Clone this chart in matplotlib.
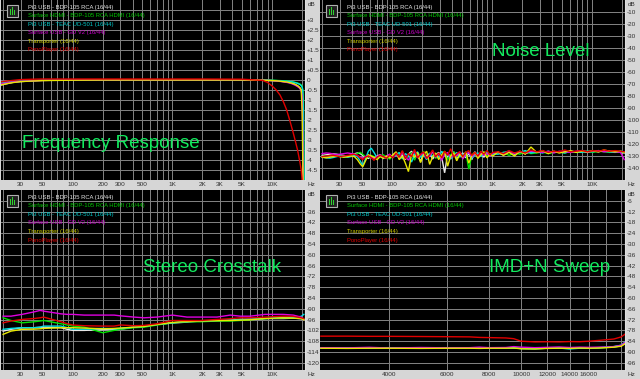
import matplotlib
matplotlib.use('Agg')
import matplotlib.pyplot as plt
from matplotlib.patches import Rectangle

W, H = 640, 379
BG = '#d6d6d6'
GRID = '#808080'
TXT = '#303030'
TITLE = '#12ea5e'
FONT = 'Liberation Sans'

series_names = ["Pi3 USB - BDP-105 RCA (16/44)",
                "Surface HDMI - BDP-105 RCA HDMI (16/44)",
                "Pi3 USB - TEAC UD-501 (16/44)",
                "Surface USB - GD V2 (16/44)",
                "Transporter (16/44)",
                "PonoPlayer (16/44)"]
line_colors = ['#e8e8e8', '#00e000', '#00e0e0', '#e000e0', '#e8e800', '#e00000']
text_colors = ['#e6e6e6', '#00c800', '#00c8c8', '#c800c8', '#d0d000', '#e00000']

# ---------------- Frequency response ----------------
f_fr = [19, 22, 25, 30, 40, 50, 70, 100, 200, 500, 1000, 2000, 5000, 8000, 9000,
        10000, 11000, 12000, 13000, 14000, 15000, 16000, 17000, 18000, 19000,
        19600, 20000, 20300, 20600, 21000]
fr_white = [-0.25, -0.18, -0.12, -0.08, -0.04, -0.02, -0.01, 0, 0, 0, 0, 0, 0, -0.01, -0.02,
            -0.03, -0.04, -0.06, -0.08, -0.1, -0.13, -0.17, -0.22, -0.3, -0.4, -0.5, -0.7, -2.0, -5.0, -7]
fr_green = [-0.12, -0.08, -0.06, -0.04, -0.02, -0.01, 0, 0, 0, 0, 0, 0, 0, 0, 0,
            -0.01, -0.02, -0.03, -0.04, -0.05, -0.07, -0.09, -0.12, -0.15, -0.2, -0.25, -0.3, -0.5, -1.0, -5.5]
fr_cyan = [-0.15, -0.1, -0.07, -0.05, -0.03, -0.01, 0, 0, 0, 0, 0, 0, 0, 0, -0.01,
           -0.02, -0.03, -0.04, -0.05, -0.06, -0.08, -0.1, -0.13, -0.17, -0.22, -0.28, -0.35, -0.5, -1.5, -6]
fr_magenta = [-0.2, -0.14, -0.1, -0.06, -0.04, -0.02, -0.01, 0, 0, 0, 0, 0, 0, -0.01, -0.02,
              -0.03, -0.05, -0.07, -0.09, -0.12, -0.15, -0.2, -0.26, -0.33, -0.42, -0.55, -0.8, -2.5, -5.5, -7]
fr_yellow = [-0.25, -0.18, -0.13, -0.08, -0.05, -0.03, -0.02, -0.01, 0, 0, 0, 0, 0, -0.01, -0.02,
             -0.03, -0.04, -0.06, -0.08, -0.1, -0.13, -0.17, -0.22, -0.28, -0.38, -0.5, -1.5, -4.0, -6, -7]
fr_red = [-0.1, -0.05, -0.02, 0.02, 0.04, 0.05, 0.05, 0.05, 0.05, 0.05, 0.05, 0.05, 0.04, -0.02, -0.12,
          -0.3, -0.5, -0.75, -1.1, -1.5, -2.0, -2.5, -3.0, -3.5, -4.1, -4.5, -5.0, -5.5, -6, -7]

# ---------------- Noise level ----------------
f_noise = [20, 22, 24, 26, 28, 30, 33, 36, 39, 42,
           45, 48, 51, 54, 58, 62, 66, 71, 76, 82,
           88, 95, 102, 110, 118, 127, 136, 146, 157, 168,
           180, 193, 207, 222, 238, 255, 273, 293, 314, 336,
           360, 386, 414, 444, 476, 510, 547, 586, 628, 673,
           722, 774, 830, 890, 954, 1020, 1150, 1300, 1480, 1680,
           1900, 2150, 2450, 2800, 3200, 3650, 4150, 4700, 5350, 6100,
           6950, 7900, 9000, 10200, 11600, 13200, 15000, 17000, 19300, 21000]
nz_white = [-129.5, -129.0, -128.6, -128.3, -128.5, -129.0, -129.6, -130.1, -129.4, -128.2, -127.5,
            -128.0, -129.5, -131.0, -132.0, -130.5, -131.5, -130.0, -129.0, -130.5, -132.0, -131.0, -129.5,
            -127.0, -131.5, -129.0, -133.0, -128.5, -126.0, -131.0, -129.5, -134.5, -127.5, -130.0,
            -128.0, -132.5, -129.0, -127.0, -131.0, -144.0, -128.5, -130.5, -126.5, -132.0, -129.0,
            -127.5, -131.5, -128.0, -133.0, -126.5, -130.0, -128.0, -131.0, -127.0, -129.5, -128.0,
            -127.5, -129.0, -126.5, -128.5, -127.0, -128.0, -126.5,
            -127.0, -126.0, -127.5, -126.5, -127.0, -126.0, -127.0, -126.5, -126.0, -127.0, -126.0,
            -126.5, -125.5, -126.5, -126.0, -127.0, -127.5]
nz_green = [-130.5, -130.0, -129.6, -129.2, -129.5, -130.0, -130.5, -130.8, -130.0, -129.0, -128.0,
            -127.0, -128.5, -130.5, -131.0, -129.5, -130.5, -131.5, -130.0, -129.0, -131.0, -132.5, -130.0,
            -128.5, -130.0, -126.5, -132.0, -129.5, -127.0, -133.5, -128.0, -130.5, -126.0, -131.5,
            -129.0, -127.5, -132.0, -128.5, -130.0, -127.0, -133.0, -129.0, -126.5, -131.0, -128.0,
            -130.5, -127.0, -141.0, -129.5, -127.5, -131.5, -128.5, -126.5, -130.0, -128.0, -129.0,
            -128.0, -127.0, -129.5, -127.5, -128.5, -126.5, -128.0,
            -127.5, -126.5, -128.0, -127.0, -126.5, -127.5, -126.0, -127.0, -126.5, -126.0, -127.0,
            -126.0, -126.5, -127.0, -126.0, -126.5, -127.0]
nz_cyan = [-131.0, -131.5, -131.8, -131.2, -130.5, -130.0, -130.5, -131.0, -130.5, -129.5, -130.5,
           -134.0, -138.0, -133.0, -126.0, -123.5, -127.0, -131.5, -130.0, -132.0, -130.5, -129.0, -131.0,
           -129.5, -127.0, -132.5, -128.0, -130.0, -135.0, -128.5, -126.5, -131.0, -129.0, -133.0,
           -127.5, -130.5, -128.0, -131.5, -126.0, -130.0, -128.5, -132.5, -129.5, -127.0, -131.0,
           -128.5, -130.0, -126.5, -132.0, -129.0, -127.5, -130.5, -128.0, -126.5, -129.5, -128.0,
           -128.5, -127.0, -126.0, -128.0, -127.0, -125.5, -127.5,
           -126.5, -127.5, -126.0, -127.0, -126.5, -127.5, -126.0, -126.5, -127.0, -126.0, -126.5,
           -125.5, -126.0, -126.5, -127.0, -126.0, -126.5]
nz_magenta = [-128.0, -127.5, -127.8, -128.5, -129.0, -128.5, -128.0, -127.5, -128.0, -128.5, -129.5,
              -131.0, -132.0, -130.5, -129.5, -130.5, -132.0, -130.5, -129.0, -131.0, -130.0, -128.5, -131.5,
              -128.0, -132.0, -127.0, -130.5, -133.5, -128.5, -126.0, -131.5, -129.0, -127.5, -132.0,
              -130.0, -126.5, -131.0, -128.0, -133.5, -129.0, -127.0, -131.5, -128.5, -130.0, -126.5,
              -132.5, -129.0, -127.0, -131.0, -128.0, -130.5, -127.5, -129.5, -128.0, -130.0, -127.5,
              -127.0, -128.5, -126.5, -128.0, -126.5, -127.5, -126.0,
              -126.5, -127.0, -126.0, -127.5, -126.0, -126.5, -127.0, -126.0, -125.5, -126.5, -126.0,
              -125.5, -126.5, -126.0, -126.5, -127.0, -133.0]
nz_yellow = [-131.0, -131.5, -131.0, -130.5, -130.0, -130.5, -131.0, -130.5, -130.0, -130.5, -133.0,
             -136.5, -139.0, -134.5, -129.0, -130.0, -131.0, -133.0, -130.5, -132.0, -130.0, -131.5, -129.0,
             -126.5, -133.0, -130.0, -136.0, -143.0, -128.5, -131.0, -127.0, -135.5, -129.0, -126.0,
             -137.0, -130.5, -127.5, -133.0, -129.0, -126.0, -138.5, -130.0, -127.5, -134.0, -128.5,
             -131.0, -126.5, -136.0, -129.5, -127.0, -132.0, -129.0, -126.5, -131.5, -128.5, -130.0,
             -126.5, -129.5, -127.0, -130.0, -126.0, -128.5, -122.5,
             -127.0, -125.5, -128.0, -126.0, -127.5, -126.5, -125.5, -127.0, -126.0, -126.5, -125.5,
             -126.5, -125.0, -126.0, -126.5, -126.0, -127.0]
nz_red = [-130.5, -130.0, -129.5, -129.5, -130.0, -130.5, -130.0, -129.5, -129.0, -128.5, -129.5,
          -131.5, -133.0, -131.0, -130.0, -131.5, -133.5, -131.0, -129.5, -130.5, -132.0, -129.5, -131.5,
          -127.5, -131.0, -125.5, -132.5, -128.0, -130.5, -124.5, -131.5, -128.5, -126.5, -132.0,
          -129.0, -125.0, -130.5, -127.5, -131.5, -126.0, -129.5, -124.0, -131.0, -128.0, -126.5,
          -130.5, -127.0, -125.5, -129.5, -127.0, -130.0, -126.0, -128.5, -125.5, -129.0, -127.0,
          -126.5, -128.0, -125.5, -127.5, -126.0, -127.5, -125.0,
          -126.5, -125.5, -127.0, -126.0, -126.5, -125.0, -126.5, -126.0, -125.5, -126.5, -125.5,
          -126.0, -125.0, -126.0, -125.5, -126.0, -126.5]

# ---------------- Stereo crosstalk ----------------
f_ct = [20, 24, 31, 41, 47, 51, 76, 88, 100, 130, 200, 260, 300, 410, 520, 700, 1000,
        1400, 1900, 2800, 3800, 4800, 6000, 8500, 12900, 16300, 19600, 20800]
ct_white = [-102.4, -101.4, -100.5, -100.5, -100.3, -100.2, -100.5, -101.4, -102.0, -102.0, -101.6, -101.4,
            -101.3, -100.2, -99.8, -98.7, -97.9, -97.4, -96.8, -96.5, -96.3, -95.9, -95.9, -95.4, -95.4,
            -95.2, -95.5, -95.9]
ct_green = [-95.0, -96.5, -97.8, -97.2, -96.8, -96.5, -98.3, -99.0, -99.6, -100.2, -103.3, -102.0,
            -101.4, -100.5, -100.2, -99.0, -97.8, -97.2, -97.2, -96.8, -96.8, -96.5, -96.1, -95.4, -95.0,
            -95.0, -95.4, -95.7]
ct_cyan = [-101.4, -100.9, -100.5, -100.5, -100.2, -99.6, -99.6, -100.5, -101.4, -101.3, -100.9, -101.1,
           -100.9, -100.2, -99.8, -98.7, -97.8, -97.0, -96.8, -96.5, -96.3, -95.9, -95.7, -95.4, -94.6,
           -94.8, -94.2, -93.1]
ct_magenta = [-94.1, -94.1, -93.1, -91.7, -90.9, -91.3, -92.8, -93.1, -93.1, -93.5, -93.5, -93.5,
              -93.9, -94.6, -95.0, -94.6, -93.5, -94.6, -94.6, -94.6, -93.5, -94.1, -94.1, -93.1, -93.1,
              -93.5, -94.6, -95.9]
ct_yellow = [-104.2, -102.4, -101.4, -101.3, -101.1, -100.9, -100.5, -100.5, -100.5, -100.7, -101.1, -100.9,
             -100.7, -100.2, -99.8, -98.7, -97.6, -97.0, -96.8, -96.6, -96.5, -96.3, -96.1, -95.4, -95.0,
             -95.2, -95.4, -96.1]
ct_red = [-97.8, -96.8, -95.9, -95.4, -95.0, -94.6, -97.2, -98.3, -99.0, -99.4, -99.6, -99.6,
          -99.0, -99.4, -99.2, -98.3, -96.5, -96.5, -96.5, -95.9, -95.5, -95.0, -95.0, -94.6, -94.1,
          -94.2, -95.0, -95.4]

# ---------------- IMD+N sweep ----------------
f_imd = [2500, 3000, 3500, 4000, 5000, 6000, 7000, 7500, 8000, 9000, 9500, 10000, 11000,
         12000, 13000, 14000, 15000, 16000, 17000, 18000, 19000, 20000, 20500]
imd_white = [-87.8, -87.9, -87.8, -87.8, -87.9, -87.8, -87.8, -87.9, -87.8, -87.8, -87.8, -88.0,
             -88.1, -87.9, -87.7, -87.9, -87.7, -87.8, -87.6, -87.4, -87.2, -86.6, -85.2]
imd_green = [-87.7, -87.8, -87.7, -87.9, -87.8, -87.7, -87.9, -87.8, -87.7, -87.8, -87.6, -87.9,
             -88.0, -87.8, -87.8, -88.0, -87.8, -87.7, -87.6, -87.5, -87.1, -86.4, -85.0]
imd_cyan = [-87.8, -87.8, -87.9, -87.8, -87.8, -87.9, -87.7, -87.8, -87.8, -87.9, -87.7, -88.1,
            -88.2, -87.9, -87.8, -88.3, -87.9, -87.8, -87.7, -87.4, -87.0, -86.2, -84.6]
imd_magenta = [-87.6, -87.7, -87.4, -87.8, -87.5, -87.7, -87.6, -87.3, -87.6, -87.5, -87.0, -87.3,
               -87.6, -87.4, -87.2, -87.5, -87.3, -87.4, -87.3, -87.3, -87.0, -86.3, -84.8]
imd_yellow = [-87.9, -88.0, -87.9, -87.9, -88.0, -87.9, -87.9, -88.0, -87.9, -87.9, -87.8, -88.2,
              -88.3, -88.0, -87.9, -88.0, -87.8, -87.9, -87.8, -87.6, -87.3, -86.8, -85.5]
imd_red = [-81.2, -81.2, -81.3, -81.3, -81.4, -81.5, -81.6, -81.9, -82.0, -82.2, -82.6, -84.0,
           -84.4, -84.3, -84.4, -84.2, -84.3, -84.0, -83.6, -83.2, -82.8, -81.6, -80.2]

# tick definitions
fr_yticks = [3, 2.5, 2, 1.5, 1, 0.5, 0, -0.5, -1, -1.5, -2, -2.5, -3, -3.5, -4, -4.5]
fr_ylabels = ['+3', '+2.5', '+2', '+1.5', '+1', '+0.5', '0', '-0.5', '-1', '-1.5', '-2', '-2.5',
              '-3', '-3.5', '-4', '-4.5']
nz_yticks = [-10, -20, -30, -40, -50, -60, -70, -80, -90, -100, -110, -120, -130, -140]
ct_yticks = [-36, -42, -48, -54, -60, -66, -72, -78, -84, -90, -96, -102, -108, -114, -120]
imd_yticks = [-6, -12, -18, -24, -30, -36, -42, -48, -54, -60, -66, -72, -78, -84, -90, -96]
log_xticks = [30, 50, 100, 200, 300, 500, 1000, 2000, 3000, 5000, 10000]
log_xlabels = ['30', '50', '100', '200', '300', '500', '1K', '2K', '3K', '5K', '10K']
log_grid = [20, 30, 40, 50, 60, 70, 80, 90, 100, 200, 300, 400, 500, 600, 700, 800, 900,
            1000, 2000, 3000, 4000, 5000, 6000, 7000, 8000, 9000, 10000, 20000]
imd_xticks = [4000, 6000, 8000, 10000, 12000, 14000, 16000]
imd_grid = [4000, 6000, 8000, 10000, 12000, 14000, 16000, 18000, 20000]

fig = plt.figure(figsize=(W / 100, H / 100), dpi=100, facecolor=BG)


def fx(x):
    return x / W


def fy(y):
    return 1 - y / H


def make_ax(x0, y0, x1, y1, xlim, ylim, xticks, xlabels, xgrid, yticks, ylabels, ygrid):
    ax = fig.add_axes([fx(x0), fy(y1), (x1 - x0) / W, (y1 - y0) / H], facecolor='black')
    ax.set_xscale('log')
    ax.set_xlim(*xlim)
    ax.set_ylim(*ylim)
    for g in xgrid:
        ax.axvline(g, color=GRID, lw=0.5, zorder=1, antialiased=False)
    for g in ygrid:
        ax.axhline(g, color=GRID, lw=0.5, zorder=1, antialiased=False)
    ax.xaxis.set_minor_locator(matplotlib.ticker.NullLocator())
    ax.set_xticks(xticks)
    ax.set_xticklabels(xlabels)
    ax.set_yticks(yticks)
    ax.set_yticklabels(ylabels)
    ax.yaxis.tick_right()
    ax.tick_params(axis='both', length=0, labelsize=4.6, colors=TXT)
    ax.tick_params(axis='x', pad=1.2)
    ax.tick_params(axis='y', pad=1.5)
    for lab in ax.get_xticklabels() + ax.get_yticklabels():
        lab.set_fontfamily(FONT)
    for s in ax.spines.values():
        s.set_visible(False)
    ax.spines['right'].set_visible(True)
    ax.spines['right'].set_color('#e0e0e0')
    ax.spines['right'].set_linewidth(0.8)
    # unit labels
    fig.text(fx(x1 + 3), fy(y0 + 4), 'dB', fontsize=4.6, color=TXT, family=FONT, va='center', ha='left')
    fig.text(fx(x1 + 2), fy(y1 + 4.5), 'Hz', fontsize=4.6, color=TXT, family=FONT, va='center', ha='left')
    # legend icon
    fig.add_artist(Rectangle((fx(x0 + 6), fy(y0 + 17)), 11 / W, 12 / H, transform=fig.transFigure,
                             facecolor='#202020', edgecolor='#b0b0b0', lw=0.8))
    for k, hh in enumerate([6, 8, 5]):
        fig.add_artist(Rectangle((fx(x0 + 8.5 + k * 2.3), fy(y0 + 15)), 1.3 / W, hh / H,
                                 transform=fig.transFigure, facecolor='#30d030', edgecolor='none'))
    for i, (name, c) in enumerate(zip(series_names, text_colors)):
        fig.text(fx(x0 + 27), fy(y0 + 7 + 8.6 * i), name, fontsize=4.25, color=c, family=FONT,
                 va='center', ha='left')
    return ax


def draw(ax, xs, ys_list):
    for ys, c in zip(ys_list, line_colors):
        ax.plot(xs, ys, color=c, lw=1.0, zorder=3, solid_joinstyle='miter')


ax1 = make_ax(1, 0, 305, 180, (19.05, 21380), (-5, 4), log_xticks, log_xlabels, log_grid,
              fr_yticks, fr_ylabels, [3.5, 3, 2.5, 2, 1.5, 1, 0.5, 0, -0.5, -1, -1.5, -2, -2.5, -3, -3.5, -4, -4.5])
draw(ax1, f_fr, [fr_white, fr_green, fr_cyan, fr_magenta, fr_yellow, fr_red])
fig.text(fx(22), fy(143), 'Frequency Response', fontsize=13.5, color=TITLE, family=FONT, va='center', ha='left')

ax2 = make_ax(320, 0, 625, 180, (19.05, 21380), (-150, 0), log_xticks, log_xlabels, log_grid,
              nz_yticks, [str(v) for v in nz_yticks], nz_yticks)
draw(ax2, f_noise, [nz_white, nz_green, nz_cyan, nz_magenta, nz_yellow, nz_red])
fig.text(fx(492), fy(51), 'Noise Level', fontsize=13.5, color=TITLE, family=FONT, va='center', ha='left')

ax3 = make_ax(1, 190, 305, 370, (19.05, 21380), (-124, -24), log_xticks, log_xlabels, log_grid,
              ct_yticks, [str(v) for v in ct_yticks], [-30] + ct_yticks)
draw(ax3, f_ct, [ct_white, ct_green, ct_cyan, ct_magenta, ct_yellow, ct_red])
fig.text(fx(143), fy(268), 'Stereo Crosstalk', fontsize=13.5, color=TITLE, family=FONT, va='center', ha='left')

ax4 = make_ax(320, 190, 625, 370, (2485, 20530), (-100, 0), imd_xticks, [str(v) for v in imd_xticks],
              imd_grid, imd_yticks, [str(v) for v in imd_yticks], imd_yticks)
draw(ax4, f_imd, [imd_white, imd_green, imd_cyan, imd_magenta, imd_yellow, imd_red])
fig.text(fx(489), fy(267), 'IMD+N Sweep', fontsize=13.5, color=TITLE, family=FONT, va='center', ha='left')

fig.savefig('out.png', dpi=100, facecolor=BG)
